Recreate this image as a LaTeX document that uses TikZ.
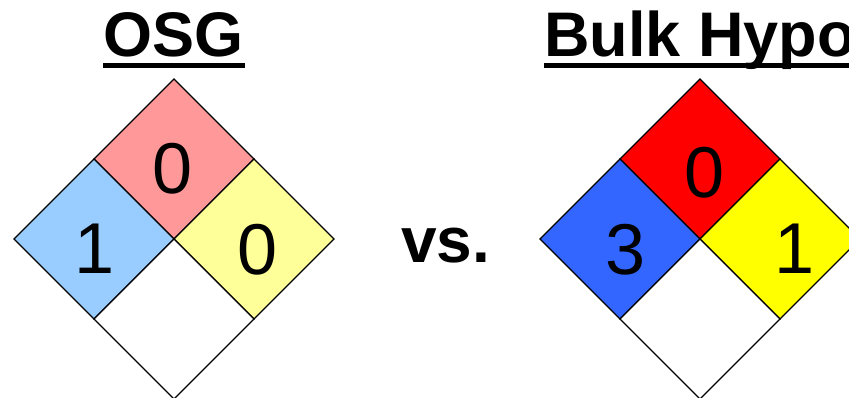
\documentclass[tikz,border=0pt]{standalone}
\usepackage{fontspec}
\setmainfont{Liberation Sans}
\definecolor{lpink}{HTML}{FF9999}
\definecolor{lblue}{HTML}{99CCFF}
\definecolor{lyellow}{HTML}{FFFF99}
\definecolor{dred}{HTML}{FF0000}
\definecolor{dblue}{HTML}{3366FF}
\definecolor{dyellow}{HTML}{FFFF00}
\newcommand\nfpadia[5]{%
  \filldraw[cell,fill=#4] (#1,#2-160) -- (#1+80,#2-80) -- (#1,#2) -- (#1-80,#2-80) -- cycle;
  \filldraw[cell,fill=#3] (#1-80,#2-80) -- (#1,#2) -- (#1-80,#2+80) -- (#1-160,#2) -- cycle;
  \filldraw[cell,fill=#5] (#1+80,#2-80) -- (#1+160,#2) -- (#1+80,#2+80) -- (#1,#2) -- cycle;
  \filldraw[cell,fill=white] (#1,#2) -- (#1+80,#2+80) -- (#1,#2+160) -- (#1-80,#2+80) -- cycle;
}
\begin{document}
\begin{tikzpicture}[x=1pt,y=-1pt,
  cell/.style={draw=black,line width=1.3pt,line join=miter},
  digit/.style={font=\fontsize{72}{72}\selectfont,inner sep=0pt,anchor=base},
  titletext/.style={font=\fontsize{63}{63}\selectfont\bfseries,inner sep=0pt,anchor=base west},
  uline/.style={line width=5pt}]
\clip (0,0) rectangle (849,398);
\fill[white] (0,0) rectangle (849,398);
% titles
\node[titletext] (osg) at (103,57) {OSG};
\draw[uline] (103,65.5) -- (245,65.5);
\node[titletext] (bulk) at (544,57) {Bulk Hypo};
\draw[uline] (544,65.5) -- (860,65.5);
% left diamond
\nfpadia{174}{239}{lblue}{lpink}{lyellow}
\node[digit] (lhealth) at (95,273) {1};
\node[digit] (lfire) at (173,194) {0};
\node[digit] (lreact) at (258,274) {0};
% vs
\node[font=\fontsize{64}{64}\selectfont\bfseries,inner sep=0pt,anchor=base west] (vs) at (401,263) {vs.};
% right diamond
\nfpadia{700}{239}{dblue}{dred}{dyellow}
\node[digit] (rhealth) at (626,274) {3};
\node[digit] (rfire) at (705,198) {0};
\node[digit] (rreact) at (795,273) {1};
\end{tikzpicture}
\end{document}
